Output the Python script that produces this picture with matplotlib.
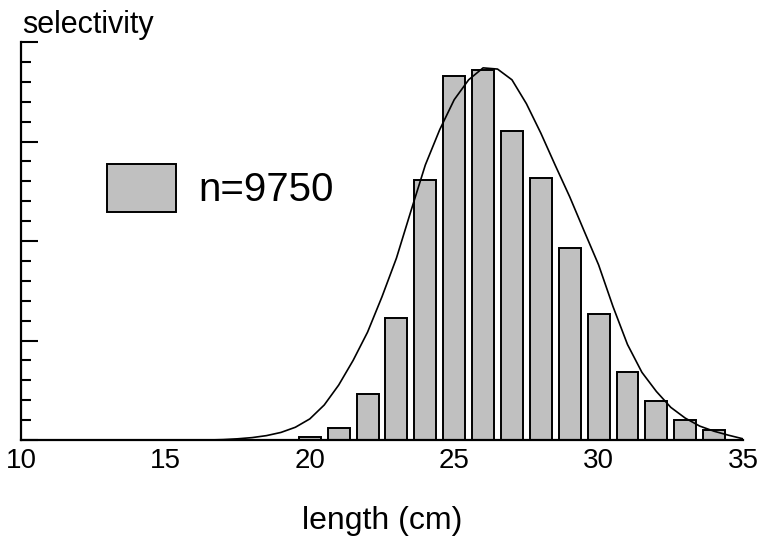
import numpy as np
import matplotlib
matplotlib.use("Agg")
import matplotlib.pyplot as plt
from matplotlib.ticker import MultipleLocator

plt.rcParams['font.family'] = ['Liberation Sans', 'DejaVu Sans']

# data
length_bins = [20, 21, 22, 23, 24, 25, 26, 27, 28, 29, 30, 31, 32, 33, 34]
bar_values = [0.008, 0.030, 0.116, 0.307, 0.653, 0.915, 0.930, 0.777,
              0.658, 0.482, 0.317, 0.171, 0.098, 0.050, 0.025]

curve_x = [16.0, 16.5, 17.0, 17.5, 18.0, 18.5, 19.0, 19.5, 20.0, 20.5,
           21.0, 21.5, 22.0, 22.5, 23.0, 23.5, 24.0, 24.5, 25.0, 25.5,
           26.0, 26.5, 27.0, 27.5, 28.0, 28.5, 29.0, 29.5, 30.0, 30.5,
           31.0, 31.5, 32.0, 32.5, 33.0, 33.5, 34.0, 34.5, 35.0]
curve_y = [0.000, 0.000, 0.001, 0.003, 0.006, 0.011, 0.019, 0.032, 0.053, 0.088,
           0.138, 0.200, 0.271, 0.360, 0.457, 0.575, 0.691, 0.780, 0.855, 0.905,
           0.935, 0.932, 0.905, 0.845, 0.771, 0.690, 0.611, 0.525, 0.440, 0.335,
           0.240, 0.170, 0.122, 0.082, 0.055, 0.035, 0.022, 0.012, 0.003]

x_ticks = [10, 15, 20, 25, 30, 35]
legend_label = "n=9750"

fig = plt.figure(figsize=(7.63, 5.41), dpi=100)
ax = fig.add_axes([21 / 763, 1 - 440 / 541, 722 / 763, 398 / 541])

ax.bar(length_bins, bar_values, width=0.76, color='#c0c0c0',
       edgecolor='black', linewidth=1.4, label=legend_label, zorder=2)
ax.plot(curve_x, curve_y, color='black', linewidth=1.2, zorder=3)

ax.set_xlim(10, 35)
ax.set_ylim(0, 1)
ax.set_xticks(x_ticks)
ax.set_xticklabels([str(t) for t in x_ticks], fontsize=20)
ax.tick_params(axis='x', length=0, pad=6)
ax.yaxis.set_major_locator(MultipleLocator(0.25))
ax.yaxis.set_minor_locator(MultipleLocator(0.05))
ax.tick_params(axis='y', which='major', direction='in', length=12, width=1.5, labelleft=False)
ax.tick_params(axis='y', which='minor', direction='in', length=7, width=1.5)

for side in ['top', 'right']:
    ax.spines[side].set_visible(False)
for side in ['left', 'bottom']:
    ax.spines[side].set_linewidth(1.6)

ax.legend(loc='center left', bbox_to_anchor=(107 / 763, 1 - 188 / 541),
          bbox_transform=fig.transFigure, frameon=False, fontsize=29,
          handlelength=1.71, handleheight=1.42, handletextpad=0.55,
          borderpad=0, borderaxespad=0)

fig.text(22 / 763, 1 - 33 / 541, "selectivity", fontsize=22, ha='left', va='baseline')
fig.text(382 / 763, 1 - 529 / 541, "length (cm)", fontsize=23, ha='center', va='baseline')

fig.savefig("out.png", dpi=100)
